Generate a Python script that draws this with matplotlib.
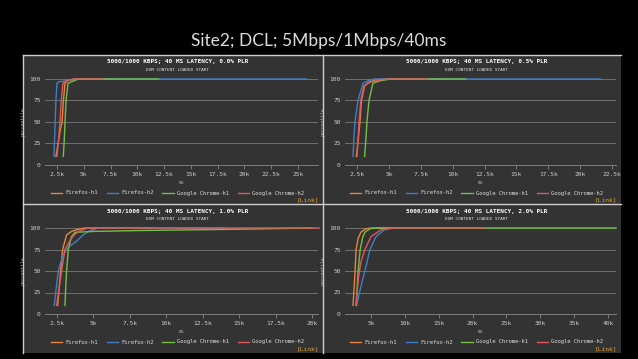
import matplotlib
matplotlib.use('Agg')
import matplotlib.pyplot as plt
from matplotlib.lines import Line2D

W, H = 638, 359

# series names / colours
series = ['Firefox-h1', 'Firefox-h2', 'Google Chrome-h1', 'Google Chrome-h2']
colors = ['#e8843c', '#3f7fc8', '#72c043', '#e0585a']

titles = ['5000/1000 KBPS; 40 MS LATENCY, 0.0% PLR',
          '5000/1000 KBPS; 40 MS LATENCY, 0.5% PLR',
          '5000/1000 KBPS; 40 MS LATENCY, 1.0% PLR',
          '5000/1000 KBPS; 40 MS LATENCY, 2.0% PLR']
subtitle = 'DOM CONTENT LOADED START'

# --- 0.0% PLR (ms, percentile)
plr0_ff1_x = [2400, 2600, 2800, 2970, 3100, 3250, 3500, 4200, 8000]
plr0_ff1_y = [10, 25, 40, 50, 75, 95, 98, 100, 100]
plr0_ff2_x = [2220, 2300, 2400, 2500, 2700, 3200, 4200, 25800]
plr0_ff2_y = [10, 40, 75, 95, 97, 97.5, 100, 100]
plr0_gc1_x = [3090, 3180, 3250, 3350, 3530, 3900, 4500, 12000]
plr0_gc1_y = [10, 30, 50, 75, 95, 97, 100, 100]
plr0_gc2_x = [2500, 2650, 2780, 2900, 3050, 3400, 4000, 6800]
plr0_gc2_y = [10, 30, 50, 75, 95, 98, 100, 100]
plr0_ticks = [2500, 5000, 7500, 10000, 12500, 15000, 17500, 20000, 22500, 25000]
plr0_labels = ['2.5k', '5k', '7.5k', '10k', '12.5k', '15k', '17.5k', '20k', '22.5k', '25k']

# --- 0.5% PLR
plr05_ff1_x = [2450, 2600, 2735, 2850, 3100, 3400, 4000, 4700, 9000]
plr05_ff1_y = [10, 30, 50, 75, 92, 96, 99, 100, 100]
plr05_ff2_x = [2190, 2250, 2340, 2580, 2970, 3400, 3900, 21600]
plr05_ff2_y = [10, 30, 50, 75, 95, 98, 100, 100]
plr05_gc1_x = [3100, 3200, 3280, 3440, 3750, 4300, 5170, 11000]
plr05_gc1_y = [10, 30, 50, 75, 95, 98, 100, 100]
plr05_gc2_x = [2500, 2580, 2660, 2800, 3050, 3500, 4300, 5000, 8000]
plr05_gc2_y = [10, 30, 50, 75, 92, 96, 99, 100, 100]
plr05_ticks = [2500, 5000, 7500, 10000, 12500, 15000, 17500, 20000, 22500]
plr05_labels = ['2.5k', '5k', '7.5k', '10k', '12.5k', '15k', '17.5k', '20k', '22.5k']

# --- 1.0% PLR
plr1_ff1_x = [2550, 2650, 2750, 2890, 3160, 3500, 3850, 4400, 9000]
plr1_ff1_y = [10, 30, 50, 75, 92, 96, 98, 100, 100]
plr1_ff2_x = [2315, 2450, 2590, 2900, 3300, 3870, 4300, 4770, 5400, 14000]
plr1_ff2_y = [10, 30, 50, 68, 78, 85, 92, 97, 100, 100]
plr1_gc1_x = [3050, 3100, 3160, 3280, 3500, 3740, 5000, 8000, 14600, 20000]
plr1_gc1_y = [10, 30, 50, 75, 90, 95, 96, 97, 98.5, 100]
plr1_gc2_x = [2480, 2650, 2820, 3050, 3400, 3700, 4080, 4630, 20500]
plr1_gc2_y = [10, 30, 50, 75, 86, 92, 97, 100, 100]
plr1_ticks = [2500, 5000, 7500, 10000, 12500, 15000, 17500, 20000]
plr1_labels = ['2.5k', '5k', '7.5k', '10k', '12.5k', '15k', '17.5k', '20k']

# --- 2.0% PLR
plr2_ff1_x = [2340, 2500, 2650, 2800, 3100, 3500, 4200, 5000, 9000]
plr2_ff1_y = [10, 30, 50, 75, 88, 95, 99, 100, 100]
plr2_ff2_x = [2900, 3300, 3700, 4100, 4850, 5740, 7000, 8500, 12000]
plr2_ff2_y = [10, 25, 38, 50, 75, 90, 98, 100, 100]
plr2_gc1_x = [2800, 2950, 3100, 3400, 3800, 4100, 4800, 5700, 41200]
plr2_gc1_y = [10, 30, 50, 75, 90, 95, 99, 100, 100]
plr2_gc2_x = [2800, 3000, 3200, 3500, 4100, 5000, 6500, 8000, 21800]
plr2_gc2_y = [10, 30, 45, 60, 75, 90, 98, 100, 100]
plr2_ticks = [5000, 10000, 15000, 20000, 25000, 30000, 35000, 40000]
plr2_labels = ['5k', '10k', '15k', '20k', '25k', '30k', '35k', '40k']

panels = [
    dict(xs=[plr0_ff1_x, plr0_ff2_x, plr0_gc1_x, plr0_gc2_x],
         ys=[plr0_ff1_y, plr0_ff2_y, plr0_gc1_y, plr0_gc2_y],
         ticks=plr0_ticks, labels=plr0_labels, xlim=(1380, 26870)),
    dict(xs=[plr05_ff1_x, plr05_ff2_x, plr05_gc1_x, plr05_gc2_x],
         ys=[plr05_ff1_y, plr05_ff2_y, plr05_gc1_y, plr05_gc2_y],
         ticks=plr05_ticks, labels=plr05_labels, xlim=(1560, 22810)),
    dict(xs=[plr1_ff1_x, plr1_ff2_x, plr1_gc1_x, plr1_gc2_x],
         ys=[plr1_ff1_y, plr1_ff2_y, plr1_gc1_y, plr1_gc2_y],
         ticks=plr1_ticks, labels=plr1_labels, xlim=(1680, 20410)),
    dict(xs=[plr2_ff1_x, plr2_ff2_x, plr2_gc1_x, plr2_gc2_x],
         ys=[plr2_ff1_y, plr2_ff2_y, plr2_gc1_y, plr2_gc2_y],
         ticks=plr2_ticks, labels=plr2_labels, xlim=(1160, 41190)),
]


def fx(px):
    return px / W


def fy(py):
    return 1 - py / H


fig = plt.figure(figsize=(W / 100, H / 100), dpi=100, facecolor='black')

fig.text(fx(319), fy(41), 'Site2; DCL; 5Mbps/1Mbps/40ms', color='#dcdcdc',
         fontsize=12.5, family='Lato', ha='center', va='center')

# panel grid (pixels)
xcuts = [23, 323, 621]
ycuts = [55, 204, 353]
mono = 'DejaVu Sans Mono'

for i, p in enumerate(panels):
    r, c = divmod(i, 2)
    x0, x1 = xcuts[c], xcuts[c + 1]
    y0, y1 = ycuts[r], ycuts[r + 1]

    bg = fig.add_axes([fx(x0), fy(y1), fx(x1 - x0), (y1 - y0) / H])
    bg.set_facecolor('#333333')
    bg.set_xticks([])
    bg.set_yticks([])
    for s in bg.spines.values():
        s.set_visible(False)

    # plot area
    l, rr = x0 + 22, x1 - 5
    top, bot = y0 + 24, y0 + 110
    ax = fig.add_axes([fx(l), fy(bot), fx(rr - l), (bot - top) / H])
    ax.set_facecolor('none')
    for k in range(4):
        ax.plot(p['xs'][k], p['ys'][k], color=colors[k], lw=1.0,
                label=series[k], clip_on=False, zorder=3)
    ax.set_xlim(*p['xlim'])
    ax.set_ylim(0, 100)
    ax.set_yticks([0, 25, 50, 75, 100])
    ax.set_xticks(p['ticks'])
    ax.set_xticklabels(p['labels'])
    ax.grid(axis='y', color='#7a7a7a', lw=0.6)
    for s in ['top', 'right', 'left']:
        ax.spines[s].set_visible(False)
    ax.spines['bottom'].set_color('#8a8a8a')
    ax.spines['bottom'].set_linewidth(0.6)
    ax.tick_params(axis='x', colors='#cccccc', length=3, width=0.5,
                   labelsize=4.5, pad=2, color='#999999')
    ax.tick_params(axis='y', colors='#cccccc', length=0, labelsize=4.5, pad=3)
    for t in ax.get_xticklabels() + ax.get_yticklabels():
        t.set_family(mono)
    ax.set_xlabel('ms', fontsize=3.5, color='#aaaaaa', family=mono)
    ax.set_ylabel('percentile', fontsize=3.5, color='#aaaaaa', family=mono)
    ax.yaxis.set_label_coords(-19 / (rr - l), 0.5)
    ax.xaxis.set_label_coords(0.5, -15 / (bot - top))

    cx = (l + rr) / 2 - 4
    fig.text(fx(cx), fy(y0 + 7), titles[i], color='white', fontsize=4.3,
             family=mono, weight='bold', ha='center', va='center')
    fig.text(fx(cx), fy(y0 + 15), subtitle, color='#dddddd', fontsize=3.2,
             family=mono, ha='center', va='center')

    handles = [Line2D([], [], color=colors[k], lw=1.0) for k in range(4)]
    leg = fig.legend(handles, series, loc='center',
                     bbox_to_anchor=(fx(cx), fy(y0 + 138)), ncol=4,
                     frameon=False, fontsize=4, handlelength=2.0,
                     handletextpad=0.6, columnspacing=1.6)
    for t in leg.get_texts():
        t.set_color('#dddddd')
        t.set_family(mono)

    fig.text(fx(x1 - 4), fy(y1 - 4), '[Link]', color='#e0a030', fontsize=4.5,
             family=mono, ha='right', va='center')

# divider lines
lc = '#cfcfcf'
fig.add_artist(Line2D([fx(xcuts[0]), fx(xcuts[2])], [fy(55), fy(55)], color=lc, lw=1))
fig.add_artist(Line2D([fx(xcuts[0]), fx(xcuts[2])], [fy(204), fy(204)], color=lc, lw=1))
fig.add_artist(Line2D([fx(23), fx(23)], [fy(55), fy(353)], color=lc, lw=1))
fig.add_artist(Line2D([fx(323), fx(323)], [fy(55), fy(353)], color=lc, lw=1))

fig.savefig('out.png', dpi=100, facecolor='black')
